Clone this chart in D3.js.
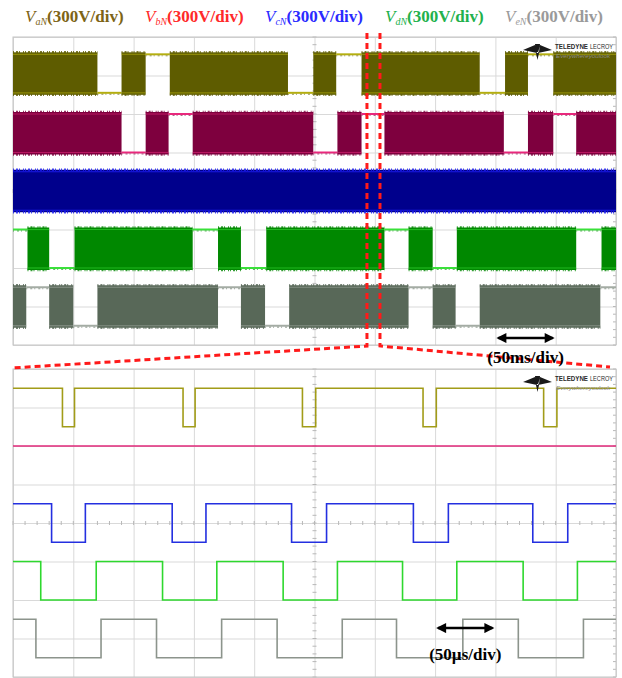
<!DOCTYPE html>
<html>
<head>
<meta charset="utf-8">
<script src="https://cdn.jsdelivr.net/npm/d3@7"></script>
<style>
  body { margin: 0; background: #fff; }
  svg { display: block; }
</style>
</head>
<body>
<div id="chart"></div>
<script>
// channel names and scope settings
const channels = ["aN", "bN", "cN", "dN", "eN"]
const voltsPerDiv = 300
const levelHigh = 300
const levelLow = 0
const spanDivs = 10
const msPerDiv = 50
const usPerDiv = 50

// top panel: [start time (ms), state]  S = switching, H = high, L = low
const topA = [[0, "S"], [70, "L"], [90, "S"], [110, "H"], [130, "S"], [228, "L"], [249, "S"], [268, "H"], [289, "S"], [387, "L"], [408, "S"], [427, "H"], [448, "S"]]
const topB = [[0, "S"], [90, "L"], [110, "S"], [129, "H"], [149, "S"], [249, "L"], [269, "S"], [289, "H"], [308, "S"], [407, "L"], [427, "S"], [448, "H"], [467, "S"]]
const topC = [[0, "S"]]
const topD = [[0, "H"], [12, "S"], [30, "L"], [51, "S"], [149, "H"], [170, "S"], [189, "L"], [210, "S"], [308, "H"], [328, "S"], [348, "L"], [368, "S"], [467, "H"], [488, "S"]]
const topE = [[0, "S"], [11, "H"], [30, "S"], [50, "L"], [70, "S"], [170, "H"], [189, "S"], [209, "L"], [229, "S"], [328, "H"], [348, "S"], [367, "L"], [387, "S"], [487, "H"]]
const topSegments = [topA, topB, topC, topD, topE]

// bottom panel: start level (V) and switching edge times (µs)
const bottomStart = [300, 0, 300, 300, 300]
const bottomA = [41, 51, 141, 151, 240, 251, 340, 351, 440, 451]
const bottomB = []
const bottomC = [32, 60, 132, 160, 231, 260, 332, 361, 431, 460]
const bottomD = [23, 69, 124, 169, 224, 269, 323, 368, 423, 468]
const bottomE = [19, 73, 119, 173, 219, 273, 318, 373, 419, 473]
const bottomEdges = [bottomA, bottomB, bottomC, bottomD, bottomE]

// channel zero position, divisions from top of screen
const topOffsetDiv = [1.45, 3.0, 4.5, 6.0, 7.5]
const bottomOffsetDiv = [1.5, 2.0, 4.5, 6.0, 7.5]

// zoomed window in the top trace (ms) and the scale arrows
const zoomWindow = [293.5, 304.3]
const topArrow = [400, 450]
const bottomArrow = [350, 400]

// styles
const labelColors = ["#7d6416", "#ff2a2a", "#2b2bff", "#22b14c", "#9a9a9a"]
const fillColors = ["#5e5c00", "#7e003e", "#00008c", "#008800", "#586858"]
const edgeColors = ["#b4ae10", "#e8287c", "#1c1cf0", "#3ae03a", "#a4aca4"]
const lineColors = ["#a29c18", "#e0287a", "#2430e0", "#2ed82e", "#8c948c"]

const width = 622
const height = 678

const svg = d3
  .select("#chart")
  .append("svg")
  .attr("width", width)
  .attr("height", height)

// ---------- legend ----------
const legend = svg.append("g")
channels.forEach((c, i) => {
  const t = legend
    .append("text")
    .attr("x", 25 + i * 120)
    .attr("y", 22)
    .attr("fill", labelColors[i])
    .style("font-family", "'Liberation Serif', 'Times New Roman', serif")
    .style("font-size", "17px")
  t.append("tspan").style("font-style", "italic").text("V")
  t.append("tspan")
    .style("font-style", "italic")
    .style("font-size", "10px")
    .attr("dy", 3)
    .text(c)
  t.append("tspan")
    .style("font-weight", "bold")
    .attr("dy", -3)
    .text("(300V/div)")
})

// ---------- panels ----------
function makePanel(y0, unitPerDiv) {
  const x = d3.scaleLinear().domain([0, spanDivs * unitPerDiv]).range([13, 616])
  const y = d3.scaleLinear().domain([0, 8]).range([y0, y0 + 308])
  const g = svg.append("g")

  const gridX = g
    .append("g")
    .attr("transform", `translate(0,${y(0)})`)
    .call(
      d3.axisBottom(x)
        .tickValues(d3.range(0, spanDivs + 1).map(d => d * unitPerDiv))
        .tickSize(y(8) - y(0))
        .tickFormat("")
    )
  const gridY = g
    .append("g")
    .attr("transform", `translate(${x.range()[0]},0)`)
    .call(
      d3.axisRight(y)
        .tickValues(d3.range(0, 9))
        .tickSize(x.range()[1] - x.range()[0])
        .tickFormat("")
    )
  ;[gridX, gridY].forEach(a => {
    a.select(".domain").remove()
    a.selectAll("line").attr("stroke", "#d9d9d9").attr("stroke-width", 1)
  })

  // minor ticks on the centre lines
  const minor = g.append("g").attr("stroke", "#b8b8b8").attr("stroke-width", 1)
  d3.range(0, spanDivs * 5 + 1).forEach(k => {
    const xx = x((k * unitPerDiv) / 5)
    minor.append("line").attr("x1", xx).attr("x2", xx).attr("y1", y(4) - 2).attr("y2", y(4) + 2)
  })
  d3.range(0, 41).forEach(k => {
    const yy = y(k / 5)
    const xc = x((spanDivs / 2) * unitPerDiv)
    minor.append("line").attr("x1", xc - 2).attr("x2", xc + 2).attr("y1", yy).attr("y2", yy)
    minor.append("line").attr("x1", x.range()[1] - 3).attr("x2", x.range()[1]).attr("y1", yy).attr("y2", yy)
  })

  g.append("rect")
    .attr("x", x.range()[0])
    .attr("y", y(0))
    .attr("width", x.range()[1] - x.range()[0])
    .attr("height", y(8) - y(0))
    .attr("fill", "none")
    .attr("stroke", "#c4c4c4")

  return { g, x, y }
}

const topPanel = makePanel(37, msPerDiv)
const bottomPanel = makePanel(369, usPerDiv)

// ---------- top panel: PWM envelopes ----------
const vDiv = (off, v) => off - v / voltsPerDiv
const topEnd = spanDivs * msPerDiv

topSegments.forEach((segs, ci) => {
  const off = topOffsetDiv[ci]
  const g = topPanel.g.append("g")
  const yHi = topPanel.y(vDiv(off, levelHigh))
  const yLo = topPanel.y(vDiv(off, levelLow))
  segs.forEach((s, i) => {
    const t0 = s[0]
    const t1 = i < segs.length - 1 ? segs[i + 1][0] : topEnd
    const x0 = topPanel.x(t0)
    const x1 = topPanel.x(t1)
    if (s[1] === "S") {
      g.append("rect")
        .attr("x", x0)
        .attr("y", yHi - 2)
        .attr("width", x1 - x0)
        .attr("height", yLo - yHi + 4)
        .attr("fill", fillColors[ci])
      ;[yHi - 2, yLo + 2].forEach(yy => {
        g.append("line")
          .attr("x1", x0).attr("x2", x1)
          .attr("y1", yy).attr("y2", yy)
          .attr("stroke", ci === 2 ? edgeColors[ci] : fillColors[ci])
          .attr("stroke-width", 2.5)
          .attr("stroke-dasharray", "1 2 2 1 1 3 1 1")
          .attr("opacity", 0.8)
      })
      ;[yHi, yLo].forEach(yy => {
        g.append("line")
          .attr("x1", x0).attr("x2", x1)
          .attr("y1", yy).attr("y2", yy)
          .attr("stroke", edgeColors[ci])
          .attr("stroke-width", 1.2)
          .attr("opacity", ci === 2 ? 0.9 : 0.55)
      })
    } else {
      const yy = s[1] === "H" ? yHi : yLo
      g.append("line")
        .attr("x1", x0).attr("x2", x1)
        .attr("y1", yy).attr("y2", yy)
        .attr("stroke", edgeColors[ci])
        .attr("stroke-width", 2)
      g.append("line")
        .attr("x1", x0).attr("x2", x1)
        .attr("y1", yy + 1.5).attr("y2", yy + 1.5)
        .attr("stroke", fillColors[ci])
        .attr("stroke-width", 1)
        .attr("stroke-dasharray", "1 3 2 2")
        .attr("opacity", 0.6)
    }
  })
})

// ---------- bottom panel: zoomed waveforms ----------
const bottomEnd = spanDivs * usPerDiv
bottomEdges.forEach((edges, ci) => {
  const off = bottomOffsetDiv[ci]
  let v = bottomStart[ci]
  const pts = [[0, v]]
  edges.forEach(t => {
    v = v === levelHigh ? levelLow : levelHigh
    pts.push([t, v])
  })
  pts.push([bottomEnd, v])
  const line = d3
    .line()
    .x(d => bottomPanel.x(d[0]))
    .y(d => bottomPanel.y(vDiv(off, d[1])))
    .curve(d3.curveStepAfter)
  bottomPanel.g.append("path")
    .attr("d", line(pts))
    .attr("fill", "none")
    .attr("stroke", lineColors[ci])
    .attr("stroke-width", 1.6)
})

// ---------- logos ----------
function drawLogo(panel) {
  const ox = 523
  const oy = panel.y(0) + 7
  const g = svg.append("g").attr("transform", `translate(${ox},${oy})`)
  g.append("path")
    .attr("d", "M0,6 L12,1 L14,9 Z M29,6 L17,1 L15,9 Z M12,0 L17,0 L16,8 L13,8 Z M13,9 L16,9 L14.5,16 Z")
    .attr("fill", "#1a1a1a")
  const font = "'Liberation Sans', Arial, sans-serif"
  g.append("text")
    .attr("x", 32)
    .attr("y", 5)
    .attr("textLength", 33)
    .attr("lengthAdjust", "spacingAndGlyphs")
    .style("font-family", font)
    .style("font-size", "7px")
    .style("font-weight", "bold")
    .attr("fill", "#2a2a2a")
    .text("TELEDYNE")
  g.append("text")
    .attr("x", 67)
    .attr("y", 5)
    .attr("textLength", 23)
    .attr("lengthAdjust", "spacingAndGlyphs")
    .style("font-family", font)
    .style("font-size", "7px")
    .attr("fill", "#2a2a2a")
    .text("LECROY")
  g.append("text")
    .attr("x", 33)
    .attr("y", 13.5)
    .attr("textLength", 54)
    .attr("lengthAdjust", "spacingAndGlyphs")
    .style("font-family", font)
    .style("font-size", "5px")
    .style("font-style", "italic")
    .attr("fill", "#8a8a8a")
    .text("Everywhereyoulook")
}
drawLogo(topPanel)
drawLogo(bottomPanel)

// ---------- zoom callout ----------
const xz0 = topPanel.x(zoomWindow[0])
const xz1 = topPanel.x(zoomWindow[1])
const dash = svg.append("g")
  .attr("stroke", "#ff1a1a")
  .attr("stroke-width", 3)
  .attr("stroke-dasharray", "6 4")
  .attr("fill", "none")
dash.append("path").attr("d", `M${xz0},33 L${xz0},346 L${bottomPanel.x(0) - 1},368`)
dash.append("path").attr("d", `M${xz1},33 L${xz1},346 L${bottomPanel.x(bottomEnd) - 6},367`)

// ---------- scale arrows ----------
svg.append("defs")
  .append("marker")
  .attr("id", "head")
  .attr("viewBox", "0 0 10 10")
  .attr("refX", 8)
  .attr("refY", 5)
  .attr("markerWidth", 5)
  .attr("markerHeight", 4)
  .attr("markerUnits", "strokeWidth")
  .attr("orient", "auto-start-reverse")
  .append("path")
  .attr("d", "M0,0 L10,5 L0,10 Z")
  .attr("fill", "#000")

function drawArrow(panel, span, yDiv, label, labelY) {
  const x0 = panel.x(span[0])
  const x1 = panel.x(span[1])
  const yy = panel.y(yDiv)
  svg.append("line")
    .attr("x1", x0 + 3).attr("x2", x1 - 3)
    .attr("y1", yy).attr("y2", yy)
    .attr("stroke", "#000")
    .attr("stroke-width", 2.5)
    .attr("marker-start", "url(#head)")
    .attr("marker-end", "url(#head)")
  svg.append("text")
    .attr("x", (x0 + x1) / 2)
    .attr("y", labelY)
    .attr("text-anchor", "middle")
    .style("font-family", "'Liberation Serif', 'Times New Roman', serif")
    .style("font-weight", "bold")
    .style("font-size", "17px")
    .attr("fill", "#000")
    .text(label)
}
drawArrow(topPanel, topArrow, 7.82, "(50ms/div)", 363)
drawArrow(bottomPanel, bottomArrow, 6.73, "(50µs/div)", 660)
</script>
</body>
</html>
